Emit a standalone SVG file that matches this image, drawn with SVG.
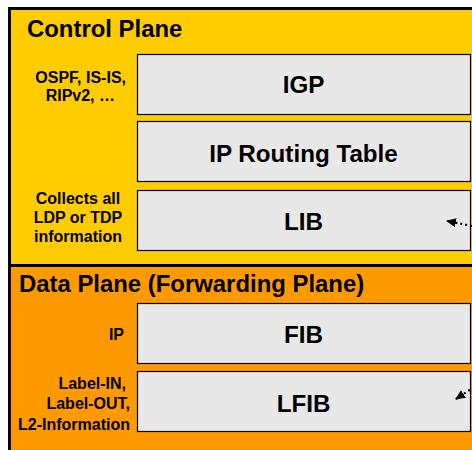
<svg xmlns="http://www.w3.org/2000/svg" width="472" height="450" viewBox="0 0 472 450">
<style>
.box{fill:#E8E8E8;stroke:#000;stroke-width:1.2}
.big{font-family:"Liberation Sans",Arial,sans-serif;font-weight:bold;font-size:24.2px;fill:#000}
.lbl{font-family:"Liberation Sans",Arial,sans-serif;font-weight:bold;font-size:16px;fill:#000}
.hdr{font-family:"Liberation Sans",Arial,sans-serif;font-weight:bold;font-size:23.9px;fill:#000}
.dot{fill:none;stroke:#000;stroke-width:2.2;stroke-dasharray:2 3}
</style>
<defs>
<marker id="ah" markerWidth="10" markerHeight="10" refX="9" refY="5" orient="auto" markerUnits="userSpaceOnUse">
<path d="M0,0.5 L10,5 L0,9.5 z" fill="#000"/>
</marker>
</defs>
<rect x="0" y="0" width="472" height="450" fill="#fff"/>
<g id="control-plane">
<rect x="9.5" y="8.5" width="470" height="257" fill="#FFCC00" stroke="#000" stroke-width="3"/>
<text class="hdr" x="27" y="37">Control Plane</text>
</g>
<g id="data-plane">
<rect x="9.5" y="265.5" width="470" height="200" fill="#FF9900" stroke="#000" stroke-width="3"/>
<text class="hdr" x="19" y="292">Data Plane (Forwarding Plane)</text>
</g>
<g id="igp">
<rect class="box" x="137.5" y="54.5" width="333" height="60"/>
<text class="big" x="303.5" y="93" text-anchor="middle">IGP</text>
<text class="lbl" x="126" y="83" text-anchor="end">OSPF, IS-IS,</text>
<text class="lbl" x="115" y="101" text-anchor="end">RIPv2, …</text>
</g>
<g id="ip-routing-table">
<rect class="box" x="137.5" y="121.5" width="333" height="60"/>
<text class="big" x="303.5" y="162" text-anchor="middle">IP Routing Table</text>
</g>
<g id="lib">
<rect class="box" x="137.5" y="190.5" width="333" height="60"/>
<text class="big" x="303.5" y="230" text-anchor="middle">LIB</text>
<text class="lbl" x="78" y="204" text-anchor="middle">Collects all</text>
<text class="lbl" x="78" y="223" text-anchor="middle">LDP or TDP</text>
<text class="lbl" x="78" y="242" text-anchor="middle">information</text>
</g>
<g id="fib">
<rect class="box" x="137.5" y="303.5" width="333" height="60"/>
<text class="big" x="303.5" y="343" text-anchor="middle">FIB</text>
<text class="lbl" x="124" y="340" text-anchor="end">IP</text>
</g>
<g id="lfib">
<rect class="box" x="137.5" y="371.5" width="333" height="60"/>
<text class="big" x="303.5" y="412" text-anchor="middle">LFIB</text>
<text class="lbl" x="126" y="389" text-anchor="end">Label-IN,</text>
<text class="lbl" x="130" y="409" text-anchor="end">Label-OUT,</text>
<text class="lbl" x="130" y="430" text-anchor="end">L2-Information</text>
</g>
<g id="connectors">
<path class="dot" d="M472,226 L447,221" marker-end="url(#ah)"/>
<path class="dot" d="M474,387 L456,399" marker-end="url(#ah)"/>
</g>
</svg>
